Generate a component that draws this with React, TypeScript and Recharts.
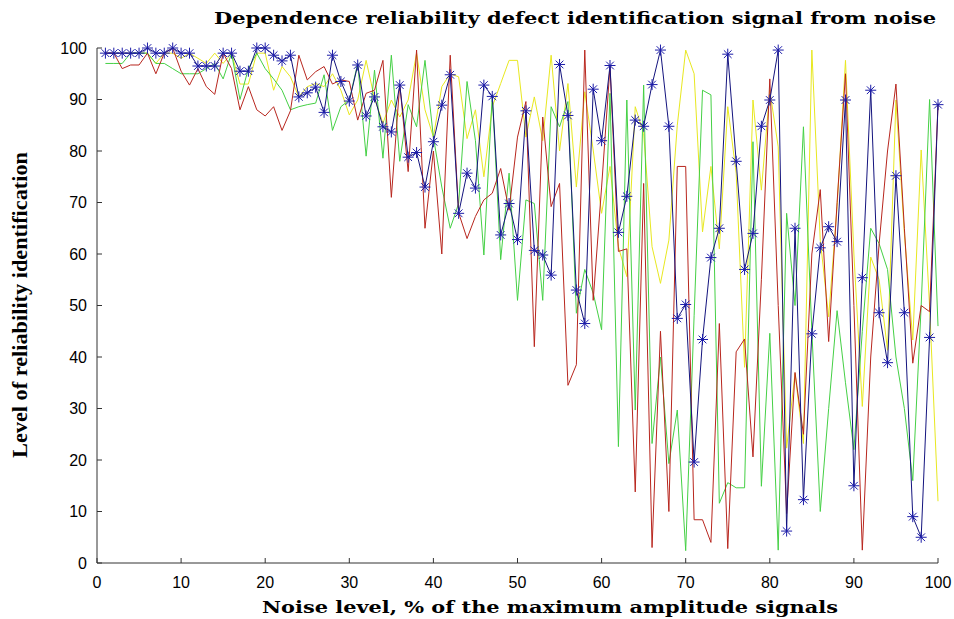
import React from 'react';
import { LineChart, Line, XAxis, YAxis } from 'recharts';

const xTicks = [0, 10, 20, 30, 40, 50, 60, 70, 80, 90, 100];
const yTicks = [0, 10, 20, 30, 40, 50, 60, 70, 80, 90, 100];

// reliability per noise level 1..100
const blueSeries = [
  99, 99, 99, 99, 99, 100, 99, 99, 100, 99,
  99, 96.5, 96.5, 96.5, 99, 99, 95.5, 95.5, 100, 100,
  98.6, 97.5, 98.6, 90.5, 91.3, 92.4, 87.5, 98.6, 93.5, 89.7,
  96.7, 86.8, 90.5, 84.7, 83.7, 92.8, 78.8, 79.7, 73, 81.8,
  88.9, 94.8, 67.9, 75.7, 72.8, 92.8, 90.6, 63.7, 69.8, 62.8,
  87.8, 60.7, 59.8, 55.9, 96.8, 86.9, 53, 46.5, 92, 82,
  96.6, 64.2, 71.2, 86, 84.8, 92.9, 99.6, 84.8, 47.5, 50.2,
  19.6, 43.4, 59.3, 65, 98.8, 78, 57, 64, 84.8, 89.9,
  99.6, 6.2, 65, 12.3, 44.5, 61.2, 65.3, 62.4, 89.9, 15,
  55.4, 91.8, 48.6, 38.9, 75.2, 48.6, 9, 5, 43.8, 89,
];

const redSeries = [
  99, 99, 96, 96.7, 96.7, 99, 95, 99, 100, 95.5,
  92.8, 96, 92.5, 91, 99, 96, 88, 92.5, 88, 86.8,
  88.6, 84, 87.8, 98.6, 93.8, 95.4, 96.4, 93, 93.8, 93.5,
  86, 91.2, 91.8, 97.6, 71, 93, 76, 99.6, 65, 80,
  60, 98.6, 68, 63, 67.3, 70.5, 71.8, 76.6, 68.5, 82.7,
  89.6, 42, 86.6, 69.2, 73.7, 34.5, 38.5, 99.6, 51, 73,
  96.4, 60.5, 61, 13.8, 73.7, 3, 45, 10, 77, 77,
  8.4, 8.4, 4, 46.5, 2.8, 41, 43.5, 20.6, 55, 94,
  50, 9.6, 37, 25, 60, 72.5, 43, 70, 95, 50,
  2.5, 40, 62, 80, 93, 65, 38.8, 50, 48.8, 89,
];

const greenSeries = [
  97, 97, 97, 99, 99, 99, 97, 97, 96, 95,
  95, 95, 96, 97, 94, 99, 90, 96, 99, 96,
  94, 91.8, 88, 88.6, 89, 89.3, 94.8, 84, 88.6, 89.9,
  97, 79, 95.7, 78.6, 98.6, 78, 89, 84.7, 97.6, 82.7,
  73, 65, 69.8, 93.5, 82, 59.8, 90.9, 58.9, 75.7, 51,
  70.5, 69.8, 51, 88.6, 84.7, 89.6, 48.5, 57, 52.4, 45.3,
  91.2, 22.6, 89.9, 29.7, 92.8, 23.2, 40, 19.3, 29.7, 2.4,
  48, 91.8, 90.9, 11.6, 15.6, 14.6, 14.6, 81.8, 14.9, 44.6,
  2.5, 67.9, 50, 84.7, 45, 10, 30, 49, 35, 22,
  45, 65, 62, 57, 40, 30, 16, 50, 90, 46,
];

const yellowSeries = [
  99, 99, 99, 99, 99, 99, 97, 99, 99, 98,
  99, 98, 97, 99, 97, 99, 93, 93, 99, 99,
  91.8, 96.4, 94.4, 90.5, 92.5, 93.1, 92.5, 95, 91.8, 87,
  89.9, 97.6, 90.2, 85.4, 89.9, 86.6, 89.9, 99, 88, 82.7,
  92.5, 95, 94.4, 82.4, 88, 75, 88.6, 93.1, 97.6, 97.6,
  82.7, 90.5, 82, 98.6, 80, 93.1, 73, 91.5, 80.2, 67.9,
  77, 61.4, 55.6, 88.6, 83.4, 61.4, 54.3, 62.7, 85, 99.6,
  95, 64.3, 77, 61, 88.6, 75.7, 38, 89.9, 72.4, 91.8,
  80.8, 22.3, 36.8, 23.2, 99.6, 62.7, 47.8, 69.2, 97.6, 60,
  30.4, 59.4, 55, 41.3, 89.9, 64, 43.3, 80.2, 49.8, 12,
];

const rows = blueSeries.map((b, i) => ({
  noise: i + 1,
  blue: b,
  red: redSeries[i],
  green: greenSeries[i],
  yellow: yellowSeries[i],
}));

const Asterisk = (props: any) => {
  const { cx, cy, index } = props;
  if (cx == null || cy == null) return <g key={`a-${index}`} />;
  const r = 5.5;
  const d = r * 0.7;
  return (
    <g key={`a-${index}`} stroke="#1c1ca8" strokeWidth={1}>
      <line x1={cx - r} y1={cy} x2={cx + r} y2={cy} />
      <line x1={cx} y1={cy - r} x2={cx} y2={cy + r} />
      <line x1={cx - d} y1={cy - d} x2={cx + d} y2={cy + d} />
      <line x1={cx - d} y1={cy + d} x2={cx + d} y2={cy - d} />
    </g>
  );
};

const TICK_GAP = 14;
const TICK_LEN = 5;
const tickFontFamily = 'Liberation Sans, Arial, sans-serif';

// ticks drawn inward, matlab style
const XTick = (props: any) => {
  const { x, y, payload } = props;
  const axisY = y - TICK_GAP;
  return (
    <g>
      <line x1={x} y1={axisY} x2={x} y2={axisY - TICK_LEN} stroke="#333" />
      <text x={x} y={y} dy="0.71em" textAnchor="middle" fontSize={16} fontFamily={tickFontFamily} fill="#000">
        {payload.value}
      </text>
    </g>
  );
};

const YTick = (props: any) => {
  const { x, y, payload } = props;
  const axisX = x + TICK_GAP;
  return (
    <g>
      <line x1={axisX} y1={y} x2={axisX + TICK_LEN} y2={y} stroke="#333" />
      <text x={x + 4} y={y} dy="0.355em" textAnchor="end" fontSize={16} fontFamily={tickFontFamily} fill="#000">
        {payload.value}
      </text>
    </g>
  );
};

const labelFont = 'DejaVu Serif, serif';

export default function App() {
  return (
    <div style={{ position: 'absolute', left: 0, top: 0, width: 954, height: 619, background: '#fff' }}>
      <LineChart width={954} height={619} data={rows} margin={{ top: 48, right: 16, bottom: 26, left: 57 }}>
        <XAxis
          dataKey="noise"
          type="number"
          domain={[0, 100]}
          ticks={xTicks}
          height={30}
          stroke="#333"
          tickLine={false}
          tickSize={0}
          tickMargin={TICK_GAP}
          tick={<XTick />}
        />
        <YAxis
          type="number"
          domain={[0, 100]}
          ticks={yTicks}
          width={40}
          stroke="#333"
          tickLine={false}
          tickSize={0}
          tickMargin={TICK_GAP}
          tick={<YTick />}
        />
        <Line dataKey="yellow" stroke="#e8e820" strokeWidth={1} dot={false} isAnimationActive={false} />
        <Line dataKey="green" stroke="#45d045" strokeWidth={1} dot={false} isAnimationActive={false} />
        <Line dataKey="red" stroke="#b8261e" strokeWidth={1} dot={false} isAnimationActive={false} />
        <Line dataKey="blue" stroke="#14147e" strokeWidth={1} dot={Asterisk} isAnimationActive={false} />
      </LineChart>
      <svg width={954} height={619} style={{ position: 'absolute', left: 0, top: 0, pointerEvents: 'none' }}>
        <text x={575} y={24} textAnchor="middle" fontFamily={labelFont} fontWeight="bold" fontSize={16}
          textLength={722} lengthAdjust="spacingAndGlyphs" fill="#000">
          Dependence reliability defect identification signal from noise
        </text>
        <text x={550} y={613} textAnchor="middle" fontFamily={labelFont} fontWeight="bold" fontSize={17}
          textLength={576} lengthAdjust="spacingAndGlyphs" fill="#000">
          Noise level, % of the maximum amplitude signals
        </text>
        <text transform="translate(27,305) rotate(-90)" textAnchor="middle" fontFamily="Liberation Serif, serif"
          fontWeight="bold" fontSize={21} textLength={306} lengthAdjust="spacingAndGlyphs" fill="#000">
          Level of reliability identification
        </text>
      </svg>
    </div>
  );
}
